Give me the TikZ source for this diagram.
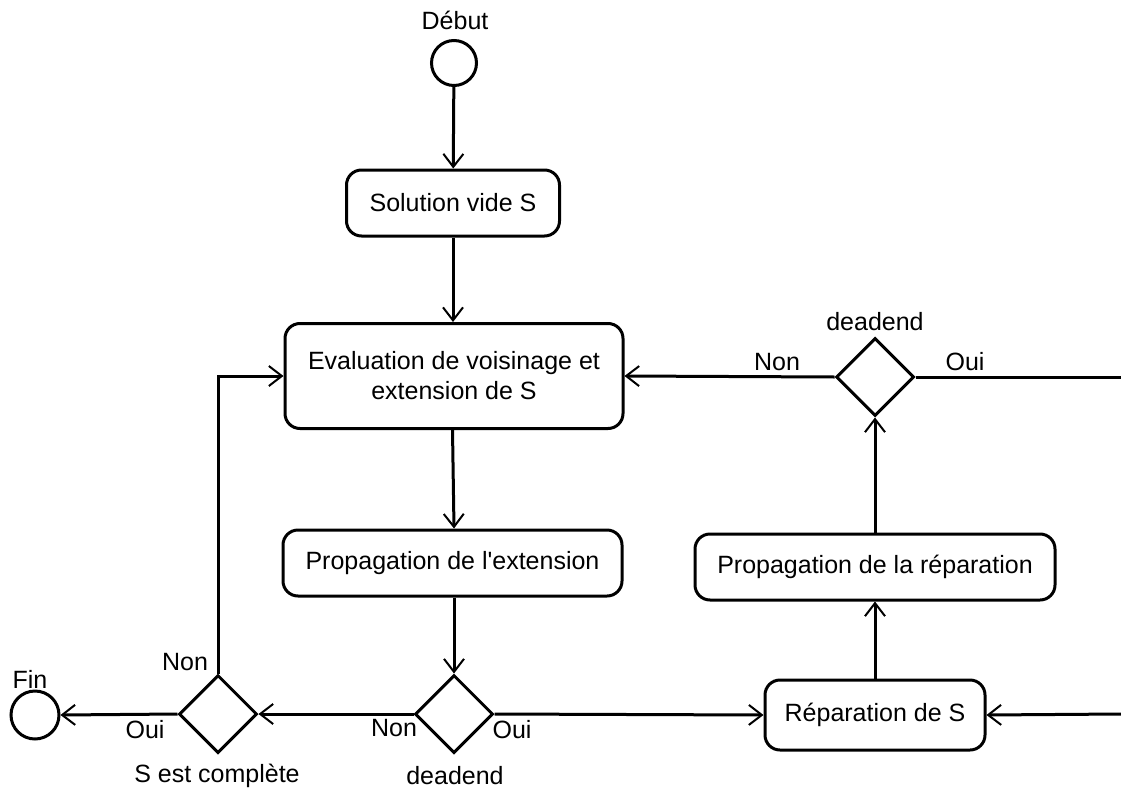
\documentclass[tikz,border=0pt]{standalone}
\usepackage{fontspec}
\setmainfont{Liberation Sans}[Ligatures=TeXOff]
\usetikzlibrary{arrows.meta,shapes.geometric}
\begin{document}
\begin{tikzpicture}[x=1pt,y=-1pt,
  every node/.style={font=\fontsize{25}{30}\selectfont},
  act/.style={draw,line width=3pt,rounded corners=15pt,align=center,inner sep=0pt},
  dec/.style={draw,diamond,line width=3pt,minimum width=78pt,minimum height=78pt,inner sep=0pt},
  term/.style={draw,circle,line width=3pt,inner sep=0pt},
  flow/.style={line width=3pt,-{Straight Barb[length=13pt,width=20pt,line width=2pt]}},
  plain/.style={line width=3pt},
  lbl/.style={inner sep=0pt}]
\path[use as bounding box,fill=white] (0,0) rectangle (1121,792);

\node[term,minimum size=45pt] (start) at (454,63) {};
\node[lbl] (tstart) at (455,20) {Début};
\node[act,minimum width=213pt,minimum height=66pt] (sol) at (453,203) {Solution vide S};
\node[act,minimum width=338pt,minimum height=105pt] (eval) at (454,376) {Evaluation de voisinage et\\extension de S};
\node[act,minimum width=339pt,minimum height=66pt] (pext) at (452.5,563) {Propagation de l'extension};
\node[dec] (dd1) at (454,714) {};
\node[lbl] (tdd1) at (455,776) {deadend};
\node[dec] (sec) at (218,714) {};
\node[lbl] (tsec) at (217,776) {S est complète};
\node[term,minimum size=48pt] (fin) at (35,715) {};
\node[lbl] (tfin) at (30,679) {Fin};
\node[act,minimum width=220pt,minimum height=70pt] (rep) at (875,715) {Réparation de S};
\node[act,minimum width=360pt,minimum height=66pt] (prep) at (875,567) {Propagation de la réparation};
\node[dec] (dd2) at (875,377) {};
\node[lbl] (tdd2) at (875,322) {deadend};

\coordinate (outA) at (1121,377);
\coordinate (outB) at (1121,714);

\draw[flow] (start) -- (sol);
\draw[flow] (sol) -- (sol |- eval.north);
\draw[flow] (eval.south -| pext.north) -- (pext.north -| eval.south);
\draw[flow] (pext.south -| dd1.north) -- (dd1.north);
\draw[flow] (dd1.west) -- (sec.east);
\draw[flow] (sec.west) -- (fin.east);
\draw[flow] (sec.north) |- (eval.west);
\draw[flow] (dd1.east) -- (rep.west);
\draw[flow] (rep) -- (prep);
\draw[flow] (prep) -- (dd2.south);
\draw[flow] (dd2.west) -- (eval.east);
\draw[plain] (dd2.east) -- (outA);
\draw[flow] (outB) -- (rep.east);

\node[lbl] (n1) at (777,362) {Non};
\node[lbl] (o1) at (965,362) {Oui};
\node[lbl] (n2) at (394,728) {Non};
\node[lbl] (o2) at (512,730) {Oui};
\node[lbl] (n3) at (185,662) {Non};
\node[lbl] (o3) at (145,730) {Oui};
\end{tikzpicture}
\end{document}
